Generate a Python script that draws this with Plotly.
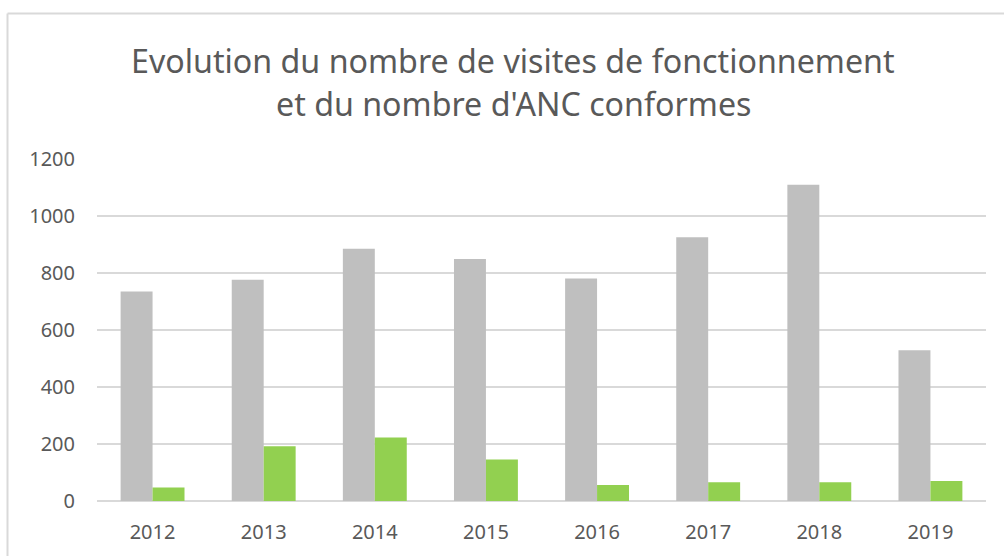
import plotly.graph_objects as go

years = ["2012", "2013", "2014", "2015", "2016", "2017", "2018", "2019"]
visites = [735, 776, 885, 849, 781, 925, 1110, 529]
conformes = [47, 192, 223, 146, 56, 66, 66, 70]
title_line1 = "Evolution du nombre de visites de fonctionnement"
title_line2 = "et du nombre d'ANC conformes"

W, H = 1004, 556
ml, mr, mt, mb = 97, 18, 159, 55
pw = W - ml - mr
ph = H - mt - mb

def px_x(x):
    return (x - ml) / pw

def px_y(y):
    return (H - mb - y) / ph

font = "Noto Sans"
txt = "#595959"

fig = go.Figure()
fig.add_trace(go.Bar(x=years, y=visites, name="Visites de fonctionnement",
                     marker=dict(color="#bfbfbf", line=dict(width=0))))
fig.add_trace(go.Bar(x=years, y=conformes, name="ANC conformes",
                     marker=dict(color="#92d050", line=dict(width=0))))

fig.update_layout(
    width=W, height=H,
    margin=dict(l=ml, r=mr, t=mt, b=mb),
    paper_bgcolor="white", plot_bgcolor="white",
    barmode="group", bargap=0.425, bargroupgap=0,
    showlegend=False,
    font=dict(family=font, color=txt),
)
fig.update_yaxes(range=[0, 1200], dtick=200, showgrid=True, gridcolor="#d9d9d9",
                 gridwidth=1.5, zeroline=True, zerolinecolor="#d9d9d9", zerolinewidth=1.5,
                 showline=False, ticks="", ticklabelstandoff=21,
                 tickfont=dict(family=font, size=20, color=txt))
fig.update_xaxes(showline=False, ticks="", ticklabelstandoff=17,
                 tickfont=dict(family=font, size=20, color=txt))

fig.add_annotation(text=title_line1, xref="paper", yref="paper",
                   x=px_x(513), y=px_y(60), xanchor="center", yanchor="middle",
                   showarrow=False, font=dict(family=font, size=32.2, color=txt))
fig.add_annotation(text=title_line2, xref="paper", yref="paper",
                   x=px_x(513), y=px_y(103), xanchor="center", yanchor="middle",
                   showarrow=False, font=dict(family=font, size=32.2, color=txt))

bx = px_x(7.5)
by = px_y(13.5)
fig.add_shape(type="line", xref="paper", yref="paper", x0=bx, x1=bx, y0=px_y(H + 5), y1=by,
              line=dict(color="#d9d9d9", width=2))
fig.add_shape(type="line", xref="paper", yref="paper", x0=bx, x1=px_x(W + 5), y0=by, y1=by,
              line=dict(color="#d9d9d9", width=2))

fig.write_html("out.html", config={"displayModeBar": False},
               post_script="document.body.style.margin='0';")
